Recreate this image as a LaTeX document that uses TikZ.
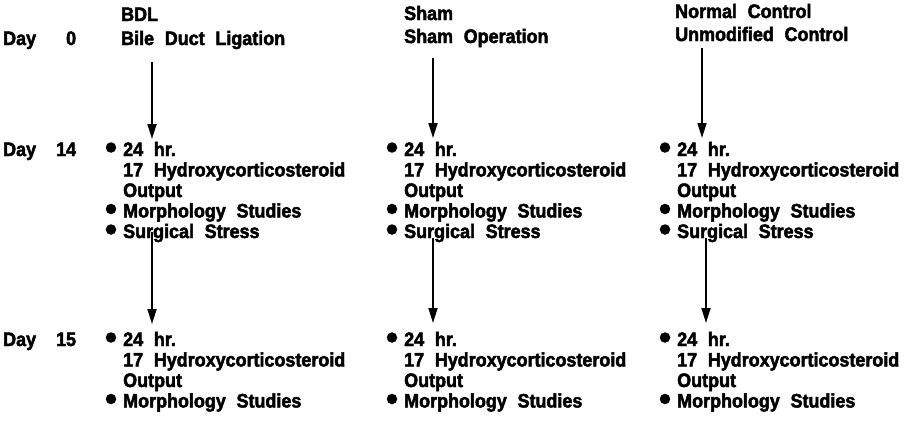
\documentclass[tikz,border=0pt]{standalone}
\usepackage{fontspec}
\newfontfamily\heavyfont[FakeBold=2.4, FakeStretch=0.92]{Liberation Sans Bold}
\usetikzlibrary{arrows.meta}
\newcommand{\lbl}{\heavyfont\fontsize{19.5}{20.5}\selectfont\spaceskip=0.55em\relax}
\tikzset{
    txt/.style={font=\lbl, inner sep=0pt, anchor=base west},
    dot/.style={circle, fill, inner sep=0pt, minimum size=10.5pt},
    arr/.style={line width=1.7pt, -{Triangle[length=15pt,width=9pt]}}
}
% one block of measurements: prefix, x, baseline of first line
\def\Outputs#1#2#3{
    \node[txt] (#1-1) at (#2,#3) {24 hr.};
    \node[txt] (#1-2) at (#2,#3+20.5) {17 Hydroxycorticosteroid};
    \node[txt] (#1-3) at (#2,#3+41) {Output};
    \node[txt] (#1-4) at (#2,#3+61.5) {Morphology Studies};
    \node[dot] (#1-d1) at ([shift={(-12pt,8.5pt)}]#1-1.base west) {};
    \node[dot] (#1-d4) at ([shift={(-12pt,8.5pt)}]#1-4.base west) {};
}

\begin{document}
\begin{tikzpicture}[x=1pt, y=-1pt]
    \useasboundingbox (0,0) rectangle (915,424);

    % day labels
    \node[txt] (day0)  at (3,45)  {Day\makebox[40pt][r]{0}};
    \node[txt] (day14) at (3,156) {Day\makebox[40pt][r]{14}};
    \node[txt] (day15) at (3,346) {Day\makebox[40pt][r]{15}};

    % groups
    \node[txt] (bdl-a)  at (121,21) {BDL};
    \node[txt] (bdl-b)  at (121,45) {Bile Duct Ligation};
    \node[txt] (sham-a) at (404,20) {Sham};
    \node[txt] (sham-b) at (404,43) {Sham Operation};
    \node[txt] (ctrl-a) at (675,18) {Normal Control};
    \node[txt] (ctrl-b) at (675,41) {Unmodified Control};

    \foreach \g/\x in {bdl/123, sham/404, ctrl/677} {
        \Outputs{\g14}{\x}{156}
        \node[txt] (\g14-5) at (\x,238) {Surgical Stress};
        \node[dot] (\g14-d5) at ([shift={(-12pt,8.5pt)}]\g14-5.base west) {};
        \Outputs{\g15}{\x}{346}
    }

    % arrows between days
    \coordinate (bdl-s0)  at (152,62);  \coordinate (bdl-e0)  at (152,139);
    \coordinate (sham-s0) at (433,58);  \coordinate (sham-e0) at (433,138);
    \coordinate (ctrl-s0) at (702,48);  \coordinate (ctrl-e0) at (702,138);
    \coordinate (bdl-s1)  at (152,232); \coordinate (bdl-e1)  at (152,324);
    \coordinate (sham-s1) at (433,238); \coordinate (sham-e1) at (433,323);
    \coordinate (ctrl-s1) at (706,238); \coordinate (ctrl-e1) at (706,323);
    \foreach \g in {bdl,sham,ctrl} {
        \draw[arr] (\g-s0) -- (\g-e0);
        \draw[arr] (\g-s1) -- (\g-e1);
    }
\end{tikzpicture}
\end{document}
